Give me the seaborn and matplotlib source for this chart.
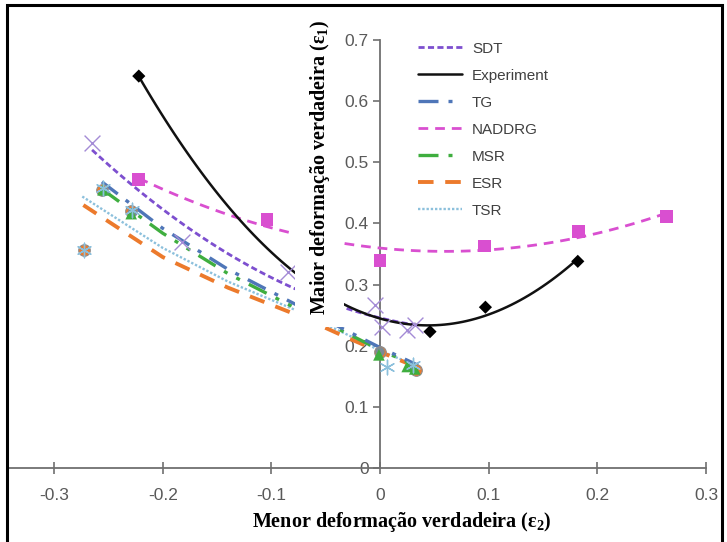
import numpy as np
import pandas as pd
import seaborn as sns
import matplotlib.pyplot as plt
from matplotlib.lines import Line2D
from matplotlib.patches import Rectangle

# ---- forming limit data: minor true strain (e2) vs major true strain (e1) ----
# Experiment (black diamonds, quadratic trend)
exp_e2 = [-0.222, 0.046, 0.097, 0.182]
exp_e1 = [0.641, 0.223, 0.263, 0.338]

# NADDRG (magenta squares, quadratic trend)
nad_e2 = [-0.222, -0.104, 0.0, 0.096, 0.183, 0.264]
nad_e1 = [0.472, 0.407, 0.339, 0.363, 0.387, 0.411]

# SDT (purple crosses, quadratic trend)
sdt_e2 = [-0.265, -0.182, -0.085, -0.005, 0.002, 0.025, 0.032]
sdt_e1 = [0.532, 0.370, 0.321, 0.267, 0.231, 0.226, 0.234]

# model curves
tg_e2 = [-0.256, -0.200, -0.140, -0.076, -0.030, 0.000, 0.035]
tg_e1 = [0.468, 0.392, 0.325, 0.266, 0.224, 0.197, 0.168]
msr_e2 = [-0.255, -0.200, -0.140, -0.076, -0.030, 0.000, 0.035]
msr_e1 = [0.455, 0.384, 0.318, 0.260, 0.220, 0.193, 0.166]
esr_e2 = [-0.273, -0.200, -0.140, -0.076, -0.030, 0.000, 0.035]
esr_e1 = [0.430, 0.345, 0.295, 0.250, 0.213, 0.190, 0.164]
tsr_e2 = [-0.274, -0.200, -0.140, -0.076, -0.030, 0.000, 0.035]
tsr_e1 = [0.444, 0.360, 0.305, 0.257, 0.218, 0.192, 0.166]

# model points
tg_pts_e2 = [-0.254, -0.228, 0.000, 0.028]
tg_pts_e1 = [0.452, 0.418, 0.190, 0.165]
msr_pts_e2 = [-0.255, -0.229, -0.001, 0.025, 0.032]
msr_pts_e1 = [0.455, 0.416, 0.185, 0.166, 0.162]
esr_pts_e2 = [-0.272, -0.256, -0.229, 0.000, 0.033]
esr_pts_e1 = [0.356, 0.455, 0.420, 0.190, 0.161]
tsr_pts_e2 = [-0.272, -0.255, -0.228, 0.006, 0.030]
tsr_pts_e1 = [0.356, 0.458, 0.422, 0.165, 0.168]

x_ticks = [-0.3, -0.2, -0.1, 0.0, 0.1, 0.2, 0.3]
x_tick_labels = ['-0.3', '-0.2', '-0.1', '0', '0.1', '0.2', '0.3']
y_ticks = [0.0, 0.1, 0.2, 0.3, 0.4, 0.5, 0.6, 0.7]
y_tick_labels = ['0', '0.1', '0.2', '0.3', '0.4', '0.5', '0.6', '0.7']

legend_labels = ['SDT', 'Experiment', 'TG', 'NADDRG', 'MSR', 'ESR', 'TSR']

# ---- styling ----
sns.set_theme(style='white')
plt.rcParams['font.family'] = ['Liberation Sans', 'DejaVu Sans']
plt.rcParams['mathtext.default'] = 'regular'

C_SDT = '#7d4fcf'
C_SDT_M = '#a48bd6'
C_EXP = '#111111'
C_TG = '#4f76b8'
C_NAD = '#d94fd0'
C_MSR = '#3fae3f'
C_ESR = '#ec7a2c'
C_TSR = '#8cc0dc'

LS_SDT = (0, (2.2, 1.2))
LS_TG = (0, (6, 3, 1.2, 3))
LS_NAD = (0, (3.5, 2.5))
LS_MSR = (0, (6, 3, 1.2, 3, 1.2, 3))
LS_ESR = (0, (4, 3))
LS_TSR = (0, (1, 0.8))

fig = plt.figure(figsize=(7.27, 5.42), dpi=100)
ax = fig.add_axes([8.4 / 727, 74 / 542, 697.6 / 727, 428 / 542])

# model curves
sns.lineplot(x=tsr_e2, y=tsr_e1, ax=ax, color=C_TSR, lw=1.7, linestyle=LS_TSR, sort=False, estimator=None)
sns.lineplot(x=esr_e2, y=esr_e1, ax=ax, color=C_ESR, lw=2.8, linestyle=LS_ESR, sort=False, estimator=None)
sns.lineplot(x=msr_e2, y=msr_e1, ax=ax, color=C_MSR, lw=2.4, linestyle=LS_MSR, sort=False, estimator=None)
sns.lineplot(x=tg_e2, y=tg_e1, ax=ax, color=C_TG, lw=2.4, linestyle=LS_TG, sort=False, estimator=None)

# quadratic trend lines
sns.regplot(x=sdt_e2, y=sdt_e1, order=2, ci=None, scatter=False, truncate=True, ax=ax,
            line_kws=dict(color=C_SDT, lw=2.0, linestyle=LS_SDT))
sns.regplot(x=nad_e2, y=nad_e1, order=2, ci=None, scatter=False, truncate=True, ax=ax,
            line_kws=dict(color=C_NAD, lw=2.0, linestyle=LS_NAD))
sns.regplot(x=exp_e2, y=exp_e1, order=2, ci=None, scatter=False, truncate=True, ax=ax,
            line_kws=dict(color=C_EXP, lw=1.8, linestyle='-'))

# model points
sns.scatterplot(x=esr_pts_e2, y=esr_pts_e1, ax=ax, marker='o', s=70, color=C_ESR,
                edgecolor='#8f8f8f', linewidth=0.8, zorder=3)
sns.scatterplot(x=tg_pts_e2, y=tg_pts_e1, ax=ax, marker='o', s=45, color='#5f8fb0',
                edgecolor='none', alpha=0.8, zorder=3)
sns.scatterplot(x=msr_pts_e2, y=msr_pts_e1, ax=ax, marker='^', s=70, color=C_MSR,
                edgecolor='none', zorder=3)
sns.scatterplot(x=tsr_pts_e2, y=tsr_pts_e1, ax=ax, marker=(6, 2, 0), s=110, color=C_TSR,
                linewidth=1.0, zorder=3)
sns.scatterplot(x=sdt_e2, y=sdt_e1, ax=ax, marker='x', s=130, color=C_SDT_M,
                linewidth=1.0, zorder=3)
sns.scatterplot(x=nad_e2, y=nad_e1, ax=ax, marker='s', s=85, color=C_NAD,
                edgecolor='none', zorder=3)
sns.scatterplot(x=exp_e2, y=exp_e1, ax=ax, marker='D', s=45, color='black',
                edgecolor='none', zorder=3)

# axes crossing at the origin
ax.set_xlim(-0.342, 0.3)
ax.set_ylim(0, 0.7)
ax.spines['left'].set_position(('data', 0))
ax.spines['bottom'].set_position(('data', 0))
ax.spines['top'].set_visible(False)
ax.spines['right'].set_visible(False)
for s in ('left', 'bottom'):
    ax.spines[s].set_color('#6f6f6f')
    ax.spines[s].set_linewidth(1.3)
    ax.spines[s].set_zorder(1)

ax.set_xticks(x_ticks)
ax.set_xticklabels(x_tick_labels)
ax.set_yticks(y_ticks)
ax.set_yticklabels(y_tick_labels)
ax.tick_params(axis='y', direction='out', length=5, width=1.2, color='#6f6f6f',
               labelsize=12.5, labelcolor='#595959', pad=3, left=True)
ax.tick_params(axis='x', direction='inout', length=9, width=1.2, color='#6f6f6f',
               labelsize=12.5, labelcolor='#595959', pad=10, bottom=True)
ax.grid(False)

# axis titles
lab_font = dict(family=['Liberation Serif', 'DejaVu Serif'], weight='bold', size=14.5, color='black')
ax.set_xlabel('Menor deformação verdadeira (ε$_2$)', **lab_font)
ax.xaxis.set_label_coords(0.564, -0.126)
ax.xaxis.label.set_verticalalignment('center')
# the vertical title sits on an opaque white box above the curves
ax.set_ylabel('')
ax.text(0.446, 0.703, 'Maior deformação verdadeira (ε$_1$)', transform=ax.transAxes,
        rotation=90, ha='center', va='center', zorder=6,
        bbox=dict(facecolor='white', edgecolor='none', pad=9), **lab_font)

# legend
handles = [
    Line2D([], [], color=C_SDT, lw=2.0, linestyle=LS_SDT),
    Line2D([], [], color=C_EXP, lw=1.8, linestyle='-'),
    Line2D([], [], color=C_TG, lw=2.4, linestyle=LS_TG),
    Line2D([], [], color=C_NAD, lw=2.0, linestyle=LS_NAD),
    Line2D([], [], color=C_MSR, lw=2.4, linestyle=LS_MSR),
    Line2D([], [], color=C_ESR, lw=2.8, linestyle=LS_ESR),
    Line2D([], [], color=C_TSR, lw=1.7, linestyle=LS_TSR),
]
leg = ax.legend(handles, legend_labels, loc='upper left', bbox_to_anchor=(0.578, 1.010),
                frameon=False, fontsize=11, handlelength=2.9, handletextpad=0.65,
                labelspacing=0.85, borderaxespad=0)
for t in leg.get_texts():
    t.set_color('#404040')

# outer frame
fig.patches.append(Rectangle((7 / 727, -0.02), 715 / 727, 1.0 - 5 / 542 + 0.02,
                             transform=fig.transFigure, fill=False,
                             edgecolor='black', linewidth=2.2, zorder=10))

fig.savefig('out.png', dpi=100)
